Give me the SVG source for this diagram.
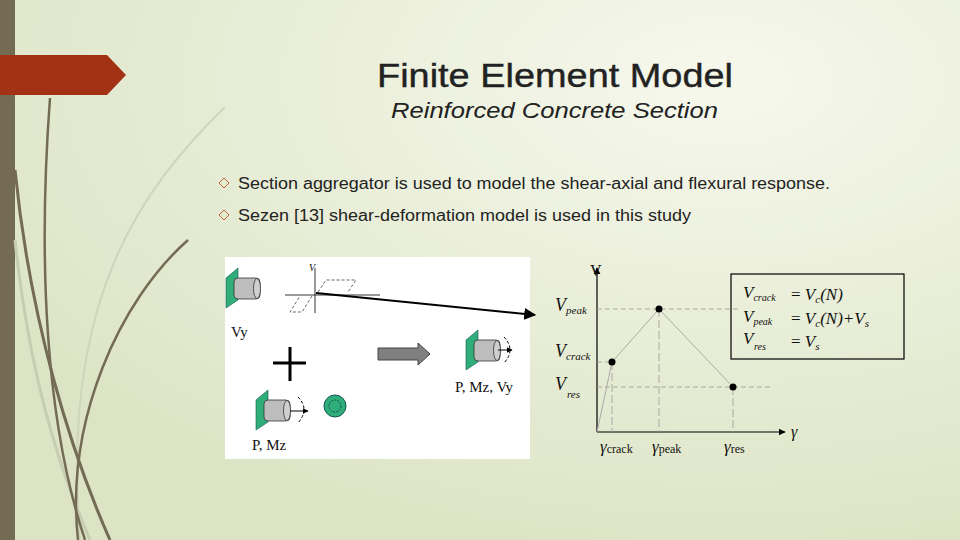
<svg xmlns="http://www.w3.org/2000/svg" width="960" height="540" viewBox="0 0 960 540">
<defs>
<radialGradient id="bg" cx="0.75" cy="0.15" r="0.9">
<stop offset="0" stop-color="#f6f8ec"/><stop offset="1" stop-color="#dce4c5"/>
</radialGradient>
<marker id="ah" viewBox="0 0 10 10" refX="9" refY="5" markerWidth="6" markerHeight="6" orient="auto"><path d="M0,0L10,5L0,10z" fill="#000"/></marker>
<g id="cyl"><polygon points="0,10 12,0 12,32 0,40" fill="#2fae7a" stroke="#155" stroke-width="0.6"/><rect x="8" y="10" width="26" height="21" rx="4" fill="#bdbdbd" stroke="#333" stroke-width="0.8"/><ellipse cx="31" cy="20.5" rx="3.5" ry="10" fill="#cfcfcf" stroke="#333" stroke-width="0.8"/></g>
</defs>
<style>
.t{font-family:"Liberation Sans",Arial,sans-serif;fill:#222}
.m{font-family:"Liberation Serif","Times New Roman",serif;fill:#111}
.d{stroke:#999;stroke-dasharray:5,3;stroke-width:0.8;fill:none}
</style>
<rect width="960" height="540" fill="url(#bg)"/>
<g id="decor" fill="none">
<rect x="0" y="0" width="15" height="540" fill="#746b55"/>
<path d="M225,107 C140,190 60,300 80,540" stroke="#cfd4bc" stroke-width="2"/>
<path d="M15,240 C30,380 60,470 90,540" stroke="#c7cdb3" stroke-width="3"/>
<path d="M50,98 C38,260 45,420 85,540" stroke="#746b55" stroke-width="2.5"/>
<path d="M15,170 C30,320 70,450 110,540" stroke="#746b55" stroke-width="3"/>
<path d="M188,240 C120,300 65,420 78,540" stroke="#746b55" stroke-width="2.5"/>
<polygon points="0,55 107,55 126,75 107,95 0,95" fill="#a33214"/>
</g>
<g id="title">
<text class="t" x="377" y="87" font-size="33" textLength="356" lengthAdjust="spacingAndGlyphs" fill="#333" stroke="#222" stroke-width="0.4">Finite Element Model</text>
<text class="t" x="391" y="118" font-size="22" font-style="italic" textLength="327" lengthAdjust="spacingAndGlyphs">Reinforced Concrete Section</text>
</g>
<g id="bullets">
<g fill="none" stroke="#c0643a" stroke-width="1"><path d="M224,178l5,5l-5,5l-5,-5z"/><path d="M224,210l5,5l-5,5l-5,-5z"/></g>
<text class="t" x="238" y="189" font-size="16" textLength="592" lengthAdjust="spacingAndGlyphs">Section aggregator is used to model the shear-axial and flexural response.</text>
<text class="t" x="238" y="221" font-size="16" textLength="453" lengthAdjust="spacingAndGlyphs">Sezen [13] shear-deformation model is used in this study</text>
</g>
<g id="left-figure">
<rect x="225" y="257" width="305" height="202" fill="#fff"/>
<use href="#cyl" x="226" y="268"/>
<text class="m" x="231" y="337" font-size="15">Vy</text>
<path d="M273,363h33M290,347v34" stroke="#000" stroke-width="3"/>
<use href="#cyl" x="256" y="390"/>
<path d="M290,411h18" stroke="#000" marker-end="url(#ah)"/>
<path d="M298,397q12,12 0,26" stroke="#000" stroke-dasharray="3,2" fill="none"/>
<circle cx="335" cy="406" r="11" fill="#2fae7a" stroke="#155"/>
<circle cx="335" cy="406" r="6" fill="none" stroke="#155" stroke-dasharray="2,1"/>
<text class="m" x="252" y="450" font-size="15">P, Mz</text>
<polygon points="378,348 418,348 418,343 430,354 418,365 418,360 378,360" fill="#808080" stroke="#444"/>
<use href="#cyl" x="466" y="330"/>
<path d="M498,350h14" stroke="#000" marker-end="url(#ah)"/>
<path d="M504,337q12,13 0,26" stroke="#000" stroke-dasharray="3,2" fill="none"/>
<text class="m" x="455" y="392" font-size="15">P, Mz, Vy</text>
<path d="M285,295h95M315,268v45" stroke="#000" stroke-width="0.8"/>
<text class="m" x="309" y="271" font-size="10" font-style="italic">V</text>
<path d="M318,292l8,-12h30l-8,12M312,296l-10,16h-12l10,-16" stroke="#000" stroke-width="0.6" stroke-dasharray="3,2" fill="none"/>
<path d="M316,293L535,315" stroke="#000" stroke-width="2" marker-end="url(#ah)"/>
</g>
<g id="chart">
<path d="M597,432V268" stroke="#000" stroke-width="1.2" marker-end="url(#ah)"/>
<path d="M597,432H785" stroke="#000" stroke-width="1.2" marker-end="url(#ah)"/>
<text class="m" x="590" y="276" font-size="16">V</text>
<text class="m" x="791" y="437" font-size="16" font-style="italic">γ</text>
<path class="d" d="M597,309H740M597,362H612M597,387H770"/>
<path d="M612,362V432M659,309V432M733,387V432" stroke="#999" stroke-dasharray="8,3" stroke-width="0.8"/>
<path d="M597,432L612,362L659,309L733,387" stroke="#aaa" fill="none"/>
<circle cx="612" cy="362" r="3.5"/><circle cx="659" cy="309" r="3.5"/><circle cx="733" cy="387" r="3.5"/>
<g class="m" font-style="italic">
<text x="555" y="311" font-size="18">V<tspan font-size="11" dy="3">peak</tspan></text>
<text x="555" y="357" font-size="18">V<tspan font-size="11" dy="3">crack</tspan></text>
<text x="555" y="390" font-size="18">V</text><text x="567" y="398" font-size="11">res</text>
<text x="600" y="452" font-size="17">γ<tspan font-style="normal" font-size="12" dy="1">crack</tspan></text>
<text x="652" y="452" font-size="17">γ<tspan font-style="normal" font-size="12" dy="1">peak</tspan></text>
<text x="724" y="452" font-size="17">γ<tspan font-style="normal" font-size="12" dy="1">res</tspan></text>
</g>
<rect x="731" y="274" width="173" height="85" fill="none" stroke="#000" stroke-width="1.2"/>
<g class="m" font-style="italic" font-size="17">
<text x="743" y="298">V<tspan font-size="10" dy="3">crack</tspan></text>
<text x="743" y="322">V<tspan font-size="10" dy="3">peak</tspan></text>
<text x="743" y="344">V</text><text x="754" y="350" font-size="10">res</text>
<text x="791" y="300" font-style="normal">= <tspan font-style="italic">V<tspan font-size="11" dy="3">c</tspan><tspan dy="-3">(N)</tspan></tspan></text>
<text x="791" y="324" font-style="normal">= <tspan font-style="italic">V<tspan font-size="11" dy="3">c</tspan><tspan dy="-3">(N)+V</tspan><tspan font-size="11" dy="3">s</tspan></tspan></text>
<text x="791" y="347" font-style="normal">= <tspan font-style="italic">V<tspan font-size="11" dy="3">s</tspan></tspan></text>
</g>
</g>
</svg>
